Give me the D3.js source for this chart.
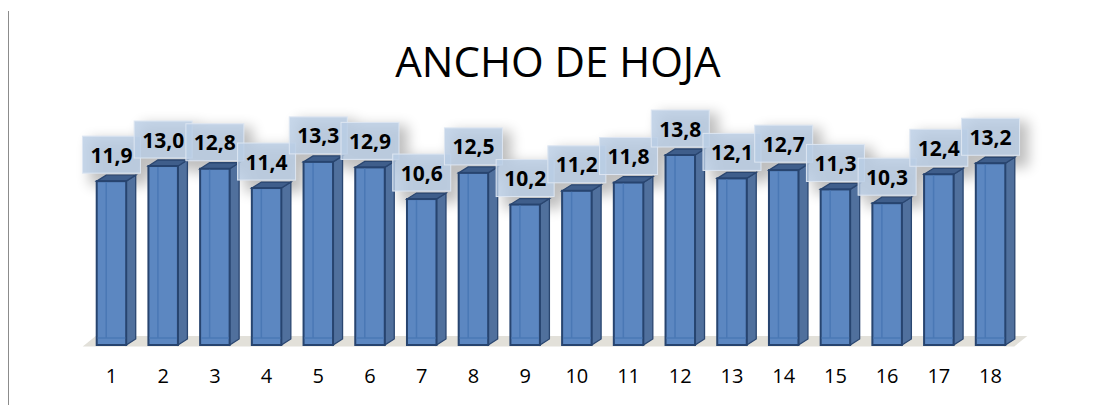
<!DOCTYPE html>
<html>
<head>
<meta charset="utf-8">
<script src="https://cdn.jsdelivr.net/npm/d3@7"></script>
<style>
html, body { margin: 0; padding: 0; background: #fff; }
svg { display: block; }
text { font-family: "Open Sans", Lato, sans-serif; }
</style>
</head>
<body>
<svg width="1094" height="405"></svg>
<script>
var chartTitle = "ANCHO DE HOJA";
var categories = ["1", "2", "3", "4", "5", "6", "7", "8", "9", "10", "11", "12", "13", "14", "15", "16", "17", "18"];
var values = [11.9, 13.0, 12.8, 11.4, 13.3, 12.9, 10.6, 12.5, 10.2, 11.2, 11.8, 13.8, 12.1, 12.7, 11.3, 10.3, 12.4, 13.2];

var depthX = 9.5, depthY = 6;
var barW = 29.5;
var baseY = 345;

var svg = d3.select("svg");

var x = d3.scaleBand().domain(categories).range([85.6, 1016.4]).paddingInner(0).paddingOuter(0);
var y = d3.scaleLinear().domain([0, 13.8]).range([baseY, 155]);

function fmt(v) { return v.toFixed(1).replace(".", ","); }
function cx(d, i) { return x(categories[i]) + x.bandwidth() / 2; }
function pts(arr) { return arr.map(function(p) { return p[0] + "," + p[1]; }).join(" "); }

var defs = svg.append("defs");
defs.append("filter").attr("id", "soft")
	.attr("x", "-50%").attr("y", "-50%").attr("width", "200%").attr("height", "200%")
	.append("feGaussianBlur").attr("stdDeviation", 6.5);

// left rule
svg.append("line").attr("x1", 8.5).attr("x2", 8.5).attr("y1", 11).attr("y2", 405)
	.attr("stroke", "#8c8c8c").attr("stroke-width", 1);

// title
svg.append("text").attr("x", 558).attr("y", 76.5).attr("text-anchor", "middle")
	.attr("font-size", 42).attr("fill", "#000").text(chartTitle);

// floor
var floorL = cx(0, 0) - barW / 2;
var floorR = cx(0, 17) + barW / 2;
svg.append("polygon")
	.attr("points", pts([[floorL - 14, baseY + 1.5], [floorL - 1, baseY - 9], [floorR + 22, baseY - 9], [floorR + 9, baseY + 1.5]]))
	.attr("fill", "#e2e0d9");

// blurred shadows of the bars and labels
var shadows = svg.append("g").attr("filter", "url(#soft)").attr("fill", "#000").attr("opacity", 0.25);
values.forEach(function(v, i) {
	shadows.append("rect")
		.attr("x", cx(v, i) - 22).attr("y", y(v) - 42)
		.attr("width", 60).attr("height", 46);
});

// bars
var bars = svg.selectAll("g.bar").data(values).enter().append("g").attr("class", "bar");

bars.append("polygon").attr("points", function(d, i) {
		var l = cx(d, i) + barW / 2;
		return pts([[l, y(d)], [l + depthX, y(d) - depthY], [l + depthX, baseY - depthY], [l, baseY]]);
	})
	.attr("fill", "#50709d").attr("stroke", "#2a4670").attr("stroke-width", 1.3);

bars.append("polygon").attr("points", function(d, i) {
		var l = cx(d, i) - barW / 2;
		return pts([[l, y(d)], [l + depthX, y(d) - depthY], [l + barW + depthX, y(d) - depthY], [l + barW, y(d)]]);
	})
	.attr("fill", "#3f5e8b").attr("stroke", "#2a4670").attr("stroke-width", 1.3);

bars.append("rect")
	.attr("x", function(d, i) { return cx(d, i) - barW / 2; })
	.attr("y", function(d) { return y(d); })
	.attr("width", barW)
	.attr("height", function(d) { return baseY - y(d); })
	.attr("fill", "#5c87c1").attr("stroke", "#27446f").attr("stroke-width", 2);

// back edges seen through the front face
bars.append("line")
	.attr("x1", function(d, i) { return cx(d, i) - barW / 2 + depthX; })
	.attr("x2", function(d, i) { return cx(d, i) - barW / 2 + depthX; })
	.attr("y1", function(d) { return y(d) + 1; })
	.attr("y2", baseY - depthY - 1)
	.attr("stroke", "#4a78b5").attr("stroke-width", 1.5);
bars.append("line")
	.attr("x1", function(d, i) { return cx(d, i) - barW / 2 + 1; })
	.attr("x2", function(d, i) { return cx(d, i) + barW / 2 - 1; })
	.attr("y1", baseY - depthY - 1)
	.attr("y2", baseY - depthY - 1)
	.attr("stroke", "#4a78b5").attr("stroke-width", 1.5);

// value labels
var labels = svg.selectAll("g.lab").data(values).enter().append("g").attr("class", "lab");
labels.append("rect")
	.attr("x", function(d, i) { return cx(d, i) - 29; })
	.attr("y", function(d) { return y(d) - 45; })
	.attr("width", 58).attr("height", 37)
	.attr("fill", "#b9cde5").attr("fill-opacity", 0.8)
	.attr("stroke", "#dde6f2").attr("stroke-width", 1);
labels.append("text")
	.attr("x", cx)
	.attr("y", function(d) { return y(d) - 18.5; })
	.attr("text-anchor", "middle")
	.attr("font-size", 21).attr("font-weight", 700).attr("fill", "#000")
	.text(fmt);

// category axis
var axis = svg.append("g").attr("transform", "translate(0,369)")
	.call(d3.axisBottom(x).tickSize(0).tickPadding(0));
axis.select(".domain").remove();
axis.selectAll("text").attr("font-size", 20).attr("fill", "#000")
	.style("font-family", "'Open Sans', sans-serif");
</script>
</body>
</html>
